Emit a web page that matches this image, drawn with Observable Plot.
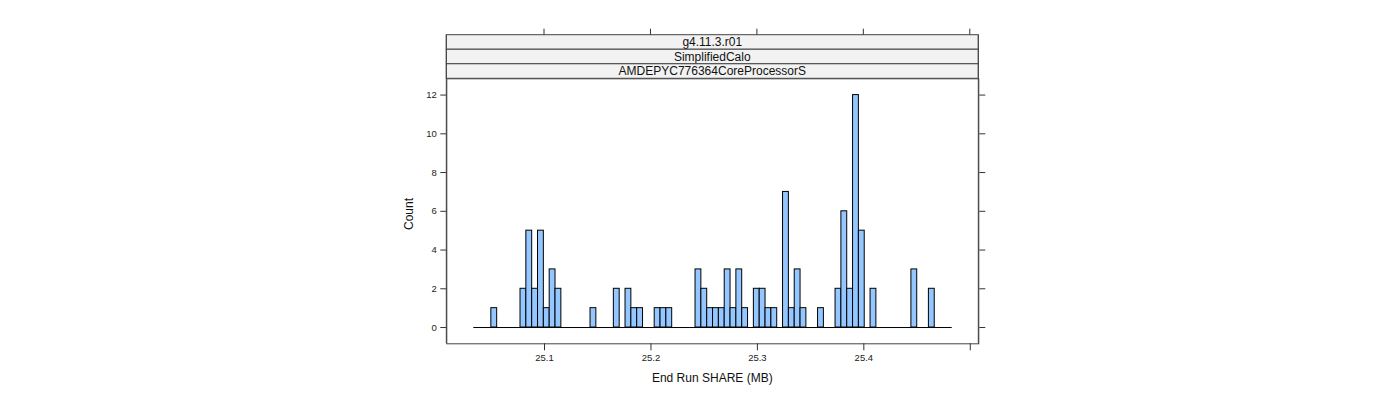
<!DOCTYPE html>
<html>
<head>
<meta charset="utf-8">
<script src="https://cdn.jsdelivr.net/npm/d3@7"></script>
<script src="https://cdn.jsdelivr.net/npm/@observablehq/plot@0.6"></script>
<style>
  html, body { margin: 0; padding: 0; background: #ffffff; }
  #chart { width: 1400px; height: 400px; }
  svg { font-family: "Liberation Sans", Arial, Helvetica, sans-serif; }
</style>
</head>
<body>
<div id="chart"></div>
<script>
// ---- data ----
const stripLabels = ["g4.11.3.r01", "SimplifiedCalo", "AMDEPYC776364CoreProcessorS"];
const binStart = 25.0336;   // first histogram break (MB)
const binWidth = 0.005481;  // histogram bin width (MB)
const counts = [
  0, 0, 0, 1, 0, 0, 0, 0, 2, 5,
  2, 5, 1, 3, 2, 0, 0, 0, 0, 0,
  1, 0, 0, 0, 2, 0, 2, 1, 1, 0,
  0, 1, 1, 1, 0, 0, 0, 0, 3, 2,
  1, 1, 1, 3, 1, 3, 1, 0, 2, 2,
  1, 1, 0, 7, 1, 3, 1, 0, 0, 1,
  0, 0, 2, 6, 2, 12, 5, 0, 2, 0,
  0, 0, 0, 0, 0, 3, 0, 0, 2, 0,
  0, 0
];
const xTicks = [25.1, 25.2, 25.3, 25.4, 25.5];
const xTickLabels = ["25.1", "25.2", "25.3", "25.4", ""];
const yTicks = [0, 2, 4, 6, 8, 10, 12];
const xDomain = [25.0082, 25.5080];
const yDomain = [-0.84, 12.84];
const xLabel = "End Run SHARE (MB)";
const yLabel = "Count";

// ---- build bins table ----
const bins = counts.map((c, i) => ({
  x1: binStart + i * binWidth,
  x2: binStart + (i + 1) * binWidth,
  count: c
}));
const binEnd = binStart + counts.length * binWidth;

const axisColor = "#333333";
const panel = { left: 446.3, right: 978.3, top: 78.3, bottom: 343.3 };

const plot = Plot.plot({
  width: 1400,
  height: 400,
  marginLeft: panel.left,
  marginRight: 1400 - panel.right,
  marginTop: panel.top,
  marginBottom: 400 - panel.bottom,
  style: { fontFamily: "'Liberation Sans', Arial, Helvetica, sans-serif", color: axisColor, background: "#ffffff" },
  x: { domain: xDomain },
  y: { domain: yDomain },
  marks: [
    Plot.ruleY([0], { x1: binStart, x2: binEnd, stroke: "#000000", strokeWidth: 1 }),
    Plot.rect(bins.filter(d => d.count > 0), {
      x1: "x1", x2: "x2", y1: 0, y2: "count",
      fill: "#94C6FF", stroke: "#000000", strokeWidth: 1, inset: 0
    }),
    Plot.frame({ stroke: "#444444", strokeWidth: 1 }),
    Plot.axisY(yTicks, {
      anchor: "left", tickSize: 6, tickPadding: 4, fontSize: 9.5, label: null,
      tickFormat: d => String(d), stroke: axisColor, fill: "#222222"
    }),
    Plot.axisY(yTicks, {
      anchor: "right", tickSize: 6, label: null, tickFormat: () => "", stroke: axisColor
    }),
    Plot.axisX(xTicks, {
      anchor: "bottom", tickSize: 7, tickPadding: 3, fontSize: 9.5, label: null,
      tickFormat: (d, i) => xTickLabels[xTicks.indexOf(d)], stroke: axisColor, fill: "#222222"
    })
  ]
});

document.getElementById("chart").appendChild(plot);

// ---- lattice-style strips, top ticks and axis titles ----
const svg = d3.select(plot);
const xs = plot.scale("x");
const stripTop = 34.7;
const stripH = (panel.top - stripTop) / stripLabels.length;

const g = svg.append("g");
stripLabels.forEach((lab, i) => {
  const y0 = stripTop + i * stripH;
  g.append("rect")
    .attr("x", panel.left).attr("y", y0)
    .attr("width", panel.right - panel.left).attr("height", stripH)
    .attr("fill", "#F2F2F2").attr("stroke", "#444444").attr("stroke-width", 1);
  g.append("text")
    .attr("x", (panel.left + panel.right) / 2).attr("y", y0 + stripH / 2)
    .attr("text-anchor", "middle").attr("dominant-baseline", "central")
    .attr("font-size", 12).attr("fill", "#111111")
    .text(lab);
});
// vertical sides of panel between strips and frame
g.append("line").attr("x1", panel.left).attr("x2", panel.left).attr("y1", stripTop).attr("y2", panel.bottom)
  .attr("stroke", "#444444");
g.append("line").attr("x1", panel.right).attr("x2", panel.right).attr("y1", stripTop).attr("y2", panel.bottom)
  .attr("stroke", "#444444");
// top ticks
xTicks.forEach(t => {
  const px = xs.apply(t);
  g.append("line").attr("x1", px).attr("x2", px).attr("y1", stripTop).attr("y2", stripTop - 6)
    .attr("stroke", axisColor);
});
// axis titles
g.append("text")
  .attr("x", (panel.left + panel.right) / 2).attr("y", 382)
  .attr("text-anchor", "middle").attr("font-size", 12).attr("fill", "#111111")
  .text(xLabel);
g.append("text")
  .attr("transform", `translate(413, 214) rotate(-90)`)
  .attr("text-anchor", "middle").attr("font-size", 12).attr("fill", "#111111")
  .text(yLabel);
</script>
</body>
</html>
